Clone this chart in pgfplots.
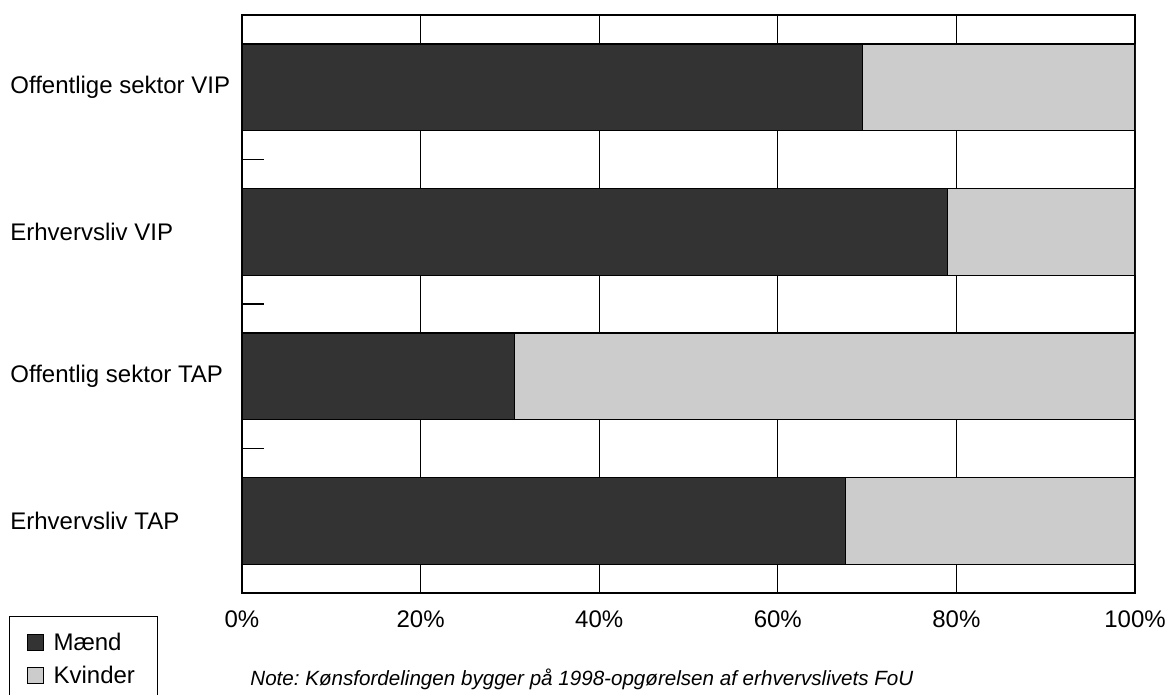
\documentclass[border=0pt]{standalone}
\usepackage{fontspec}
\setmainfont{Liberation Sans}
\usepackage{pgfplots}
\pgfplotsset{compat=1.18}
\definecolor{maend}{HTML}{333333}
\definecolor{kvinder}{HTML}{CCCCCC}
\newcommand\lfont{\fontsize{12}{14.4}\selectfont}
\frenchspacing
\begin{document}
\begin{tikzpicture}
\begin{axis}[
  at={(121pt,51pt)}, anchor=south west,
  scale only axis, width=446.5pt, height=289pt,
  xbar stacked, bar width=0.6,
  xmin=0, xmax=100, ymin=-0.5, ymax=3.5, y dir=reverse,
  ytick={0,1,2,3},
  yticklabels={Offentlige sektor VIP, Erhvervsliv VIP, Offentlig sektor TAP, Erhvervsliv TAP},
  yticklabel style={anchor=west, inner sep=0pt, xshift=-116pt, font=\lfont},
  xtick={0,20,40,60,80,100},
  xticklabels={0\%,20\%,40\%,60\%,80\%,100\%},
  xticklabel style={inner sep=0pt, yshift=-8.5pt, font=\lfont},
  major tick length=0pt,
  ytick pos=left, xtick pos=bottom,
  extra y ticks={-0.5,0.5,1.5,2.5,3.5},
  extra y tick labels={},
  extra y tick style={major tick length=11pt, tick style={black, line width=0.6pt}},
  xmajorgrids, grid style={black, line width=0.5pt},
  axis line style={black, line width=0.6pt},
  legend cell align=left,
  legend style={at={(axis description cs:-0.2606,-0.0393)}, anchor=north west,
    draw=black, line width=0.6pt, inner xsep=8.35pt, inner ysep=8.5pt,
    font=\lfont, row sep=8pt, column sep=5pt,
    nodes={inner sep=0pt, text height=8.5pt, text depth=0pt}},
]
\addplot[fill=maend, draw=black, line width=0.6pt,
  legend image code/.code={\draw[fill=maend, draw=black, line width=0.5pt] (0pt,-4.25pt) rectangle (8pt,3.75pt);}]
  coordinates {(69.5,0) (79.0,1) (30.5,2) (67.6,3)};
\addplot[fill=kvinder, draw=black, line width=0.6pt,
  legend image code/.code={\draw[fill=kvinder, draw=black, line width=0.5pt] (0pt,-4.25pt) rectangle (8pt,3.75pt);}]
  coordinates {(30.5,0) (21.0,1) (69.5,2) (32.4,3)};
\legend{Mænd, Kvinder\hspace*{3pt}}
\end{axis}
\node[anchor=base west, inner sep=0pt, font=\fontsize{10.3}{12.4}\selectfont\itshape] at (125pt,4.5pt)
  {Note: Kønsfordelingen bygger på 1998-opgørelsen af erhvervslivets FoU};
\pgfresetboundingbox
\path[use as bounding box] (0,0) rectangle (584.5pt,347.5pt);
\end{tikzpicture}
\end{document}
